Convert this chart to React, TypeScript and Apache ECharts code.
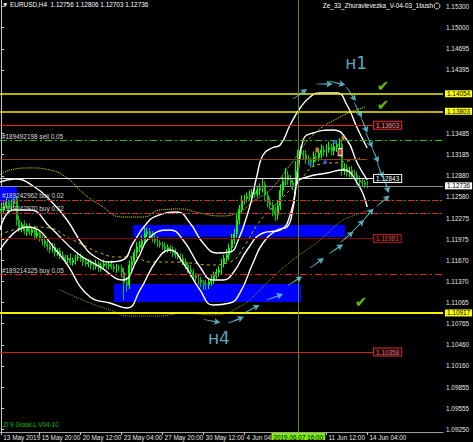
import React, { useEffect, useRef } from "react";
import * as echarts from "echarts";

// ---------- DATA ----------
const PIP = 0.0001;
const firstOpen = 1.1238;
const closes = [
  1.124, 1.1245, 1.125, 1.1242, 1.1248, 1.1254, 1.1225, 1.1213, 1.1218, 1.1209, 1.1215, 1.1207,
  1.1211, 1.1202, 1.1206, 1.1199, 1.1195, 1.119, 1.1187, 1.1182, 1.1186, 1.1178, 1.118, 1.1174,
  1.1171, 1.1168, 1.117, 1.1164, 1.1167, 1.117, 1.1172, 1.117, 1.1165, 1.1162, 1.1164, 1.116,
  1.1158, 1.1162, 1.1156, 1.1159, 1.1162, 1.116, 1.1161, 1.1158, 1.1155, 1.1157, 1.1156, 1.115,
  1.1135, 1.1132, 1.116, 1.1165, 1.1178, 1.1186, 1.1189, 1.1195, 1.1205, 1.1208, 1.1203, 1.1199,
  1.1195, 1.1192, 1.1189, 1.1187, 1.1183, 1.1185, 1.1182, 1.1178, 1.1175, 1.1172, 1.117, 1.1165,
  1.116, 1.1154, 1.115, 1.1145, 1.1142, 1.1139, 1.1135, 1.1133, 1.1132, 1.1136, 1.1139, 1.1145,
  1.115, 1.1153, 1.1162, 1.117, 1.1175, 1.1185, 1.1196, 1.1205, 1.1225, 1.124, 1.1253, 1.1256,
  1.1258, 1.126, 1.1264, 1.1262, 1.1268, 1.127, 1.1275, 1.126, 1.125, 1.1246, 1.1238, 1.1232,
  1.1245, 1.1267, 1.128, 1.1289, 1.1282, 1.1278, 1.1275, 1.1295, 1.1325, 1.132, 1.1318, 1.1312,
  1.131, 1.1308, 1.1315, 1.1314, 1.132, 1.1325, 1.1322, 1.1326, 1.1328, 1.1324, 1.133, 1.1332,
  1.1333, 1.1296, 1.1299, 1.1293, 1.1296, 1.129, 1.1289, 1.1282, 1.1279, 1.1278, 1.12756, 1.12736,
];
const upWick = [
  5, 6, 7, 4, 6, 3, 5, 6, 4, 6, 5, 5,
  4, 6, 5, 5, 4, 6, 5, 4, 6, 5, 4, 5,
  6, 4, 5, 7, 4, 5, 6, 5, 4, 6, 5, 4,
  5, 6, 4, 5, 6, 4, 5, 6, 4, 5, 4, 5,
  6, 8, 7, 6, 5, 7, 6, 8, 9, 6, 5, 6,
  5, 6, 4, 5, 6, 5, 4, 5, 6, 4, 5, 6,
  5, 4, 6, 5, 4, 6, 5, 4, 6, 5, 7, 6,
  5, 6, 7, 5, 8, 6, 9, 7, 8, 6, 7, 5,
  6, 7, 5, 8, 6, 7, 9, 5, 6, 7, 5, 6,
  8, 9, 7, 10, 6, 7, 5, 14, 19, 6, 5, 7,
  6, 5, 8, 6, 7, 8, 6, 7, 9, 6, 8, 7,
  9, 6, 7, 6, 5, 6, 7, 5, 6, 5, 4, 5,
];
const downWick = [
  6, 5, 4, 7, 5, 6, 8, 5, 6, 5, 7, 4,
  5, 6, 4, 5, 7, 5, 6, 5, 4, 6, 5, 5,
  4, 6, 5, 4, 5, 6, 4, 5, 6, 4, 5, 6,
  5, 4, 6, 5, 4, 5, 6, 4, 5, 6, 5, 8,
  25, 10, 6, 7, 5, 6, 7, 5, 6, 5, 7, 6,
  5, 6, 4, 5, 6, 5, 4, 6, 5, 4, 6, 5,
  6, 5, 7, 6, 5, 7, 6, 8, 7, 6, 5, 6,
  5, 6, 7, 5, 6, 8, 7, 6, 8, 7, 5, 6,
  6, 5, 7, 6, 5, 8, 6, 9, 7, 6, 8, 9,
  7, 6, 8, 6, 7, 5, 8, 6, 7, 9, 6, 7,
  6, 8, 7, 6, 5, 7, 6, 7, 5, 6, 7, 8,
  6, 8, 7, 6, 7, 5, 6, 7, 5, 6, 5, 3.3,
];

// indicator lines: [bar index, price]
const bandOuter = [
  [-0.5, 1.12791], [5.4, 1.12834], [12.4, 1.12734], [19.0, 1.12534], [25.7, 1.12247], [31.9, 1.1189],
  [37.4, 1.11703], [42.5, 1.11646], [47.5, 1.11675], [51.5, 1.11918], [56.9, 1.12204], [60.8, 1.12305],
  [68.6, 1.12362], [73.7, 1.12204], [78.8, 1.11918], [84.3, 1.11775], [89.3, 1.11789], [92.1, 1.11918],
  [97.2, 1.12462], [99.9, 1.12891], [102.2, 1.13178], [105.7, 1.13278], [108.9, 1.13321], [112.8, 1.13607],
  [116.7, 1.1385], [120.6, 1.14008], [124.5, 1.14065], [131.1, 1.14065], [135.0, 1.13893], [139.0, 1.13564],
  [142.9, 1.13278],
];
const bandMiddle = [
  [-0.5, 1.12104], [4.6, 1.12391], [11.2, 1.12391], [19.0, 1.12147], [29.6, 1.11775], [38.6, 1.11575],
  [47.5, 1.11389], [53.0, 1.11675], [58.1, 1.12004], [65.9, 1.12104], [71.0, 1.11961], [77.6, 1.11575],
  [82.7, 1.11389], [86.6, 1.11389], [90.5, 1.11489], [96.0, 1.11818], [102.2, 1.12061], [108.9, 1.12104],
  [112.8, 1.12319], [115.5, 1.1282], [117.9, 1.13392], [121.8, 1.13493], [129.6, 1.13535], [135.0, 1.13392],
  [139.0, 1.13063], [142.9, 1.1282],
];
const bandLower = [
  [-0.5, 1.11818], [10.0, 1.12147], [22.9, 1.11746], [34.7, 1.11145], [42.5, 1.11059], [49.1, 1.10988],
  [54.2, 1.11246], [60.8, 1.11675], [65.9, 1.11818], [71.0, 1.11632], [77.6, 1.11246], [82.7, 1.11031],
  [89.3, 1.11059], [93.2, 1.11203], [98.3, 1.11632], [102.2, 1.11918], [107.7, 1.12104], [111.6, 1.12147],
  [114.0, 1.12433], [115.5, 1.12777], [119.4, 1.12863], [127.2, 1.1292], [133.5, 1.12963], [139.0, 1.12777],
  [142.9, 1.12433],
];
const maUpper = [
  [-0.5, 1.12891], [3.4, 1.12963], [11.2, 1.12992], [19.0, 1.12963], [25.7, 1.12848], [31.9, 1.12634],
  [38.6, 1.12462], [47.5, 1.1229], [55.4, 1.1229], [62.0, 1.12391], [69.8, 1.12405], [77.6, 1.12348],
  [85.4, 1.12305], [92.1, 1.12348], [99.1, 1.12534], [105.0, 1.12677], [112.8, 1.13035], [121.8, 1.13464],
  [132.3, 1.13721], [142.1, 1.13865],
];
const maMiddle = [
  [-0.5, 1.12033], [4.6, 1.12104], [12.4, 1.12147], [19.0, 1.12133], [25.7, 1.12004], [33.5, 1.11861],
  [38.6, 1.11775], [45.2, 1.11718], [51.5, 1.11718], [58.1, 1.11646], [65.9, 1.11646], [73.7, 1.11632],
  [81.5, 1.11603], [89.3, 1.11646], [95.2, 1.1189], [99.9, 1.12176], [105.0, 1.12391], [110.0, 1.12577],
  [116.7, 1.1282], [123.3, 1.13035], [133.5, 1.13078], [140.1, 1.13135],
];
const maLower = [
  [22.9, 1.11246], [34.7, 1.11059], [42.5, 1.10959], [50.3, 1.10873], [60.8, 1.10873], [72.5, 1.10916],
  [82.7, 1.10888], [88.2, 1.10916], [92.1, 1.10988], [96.0, 1.11074], [105.0, 1.11389], [112.8, 1.11646],
  [124.5, 1.11961], [132.3, 1.12219], [138.2, 1.12319], [144.0, 1.12391],
];

// drawn arrows: [bar index, price, rotation]
const arrowsH1 = [
  [116.7, 1.14051, -54], [126.1, 1.14194, -90], [131.1, 1.14208, -104], [136.6, 1.14051, -146],
  [139.3, 1.13822, -153], [141.7, 1.13607, -157], [143.6, 1.13392, -157], [146.0, 1.13178, -157],
  [147.9, 1.12963, -159], [150.3, 1.12748, -162],
];
const arrowsH4 = [
  [82.3, 1.10802, -100], [91.7, 1.10816, -68], [97.9, 1.10974, -63], [106.9, 1.11145, -70],
  [114.7, 1.11374, -58], [123.3, 1.11632, -54], [130.7, 1.11832, -56], [135.0, 1.12004, -50],
  [139.3, 1.12161, -45], [143.2, 1.12319, -40], [149.1, 1.12519, -50],
];
const notes = [
  { text: "н1", x: 138.6, p: 1.14494, color: "#6fd8ea", size: 17 },
  { text: "н4", x: 85.0, p: 1.10559, color: "#6fd8ea", size: 17 },
  { text: "✔", x: 149.1, p: 1.14165, color: "#7cf000", size: 15 },
  { text: "✔", x: 149.1, p: 1.13894, color: "#7cf000", size: 15 },
  { text: "✔", x: 140.5, p: 1.11074, color: "#7cf000", size: 15 },
];
// trade markers on chart: [bar index, price]
const blueDots = [[130.4, 1.13364], [126.5, 1.13077], [120.6, 1.13049]];
const orangeMarks = [[123.3, 1.13249], [133.5, 1.13421]];
const redMarks = [[132.3, 1.13221]];

// levels
const yellowLevels = [1.14054, 1.13803, 1.10917];
const currentPrice = 1.12736;
const sellLevel = { price: 1.13392, label: "#189492198 sell 0.05" };
const buyLevels = [
  { price: 1.12534, label: "#189242962 buy 0.02" },
  { price: 1.12348, label: "#189242970 buy 0.02" },
];
const buyLevelLow = { price: 1.1147, label: "#189214325 buy 0.05" };
const boxLevels = [
  { price: 1.13603, line: "#e02020", border: "#e03030", text: "#d8a0a0", bg: "#240000" },
  { price: 1.12843, line: "#e8e8e8", border: "#ffffff", text: "#ffffff", bg: "#000000" },
  { price: 1.11981, line: "#8b0000", border: "#a82020", text: "#c05050", bg: "#1c0000" },
  { price: 1.10358, line: "#d02020", border: "#d03030", text: "#d08080", bg: "#200000" },
];
const brownLevel = 1.13116;
const zones = [
  [51.45, 1.12176, 134.3, 1.12004],
  [44.0, 1.11331, 117.1, 1.11074],
  [-0.5, 1.12734, 6.1, 1.12491],
];
const markerBar = 116;
const markerLabel = "2019.06.07 16:00";

const yTicks = [
  1.153, 1.15, 1.14695, 1.14395, 1.13485, 1.13185, 1.1288, 1.1258, 1.12275, 1.11975, 1.1167,
  1.1137, 1.11065, 1.10765, 1.1046, 1.1016, 1.09855, 1.09555, 1.0925,
];
const xLabelIdx = [0, 15, 31, 47, 63, 79, 95, 127, 143];
const N = 173;
const MONTHS = ["Jan", "Feb", "Mar", "Apr", "May", "Jun", "Jul", "Aug", "Sep", "Oct", "Nov", "Dec"];

function buildCategories() {
  const out: string[] = [];
  let t = Date.UTC(2019, 4, 13, 8);
  for (let i = 0; i < N; i++) {
    const d = new Date(t);
    const hh = String(d.getUTCHours()).padStart(2, "0");
    out.push(
      i === 0
        ? `${d.getUTCDate()} ${MONTHS[d.getUTCMonth()]} ${d.getUTCFullYear()}`
        : `${d.getUTCDate()} ${MONTHS[d.getUTCMonth()]} ${hh}:00`
    );
    t += 4 * 3600000;
    if (new Date(t).getUTCDay() === 6) t += 48 * 3600000;
  }
  return out;
}

const FONT = "Liberation Sans";
const FS = 6.4;

export default function App() {
  const ref = useRef<HTMLDivElement>(null);
  useEffect(() => {
    if (!ref.current) return;
    const chart = echarts.init(ref.current, null, { renderer: "svg" });
    const cats = buildCategories();
    const ohlc = closes.map((c, i) => {
      const o = i === 0 ? firstOpen : closes[i - 1];
      const hi = Math.max(o, c) + upWick[i] * PIP;
      const lo = Math.min(o, c) - downWick[i] * PIP;
      return [o, c, +lo.toFixed(5), +hi.toFixed(5)];
    });
    const endIdx = 145.2;
    const markLines: any[] = [];
    yellowLevels.forEach((p, k) => {
      markLines.push({
        yAxis: p,
        lineStyle: { color: "#f0f000", width: k === 2 ? 2 : 1.5, type: "solid" },
        label: {
          show: true, position: "end", distance: 2, formatter: p.toFixed(5),
          backgroundColor: "#ffff00", color: "#000", fontSize: FS, fontFamily: FONT, padding: [1, 2, 0, 2],
        },
      });
    });
    markLines.push({
      yAxis: currentPrice,
      lineStyle: { color: "#8c8c8c", width: 1, type: "solid" },
      label: {
        show: true, position: "end", distance: 2, formatter: currentPrice.toFixed(5),
        backgroundColor: "#ffffff", color: "#000", fontSize: FS, fontFamily: FONT, padding: [1, 2, 0, 2],
      },
    });
    markLines.push({
      yAxis: sellLevel.price,
      lineStyle: { color: "#20c020", width: 1, type: [7, 3, 2, 3] },
      label: {
        show: true, position: "insideStartTop", distance: 1, formatter: sellLevel.label,
        color: "#d8d8d8", fontSize: FS, fontFamily: FONT, padding: [0, 0, 0, 1],
      },
    });
    buyLevels.forEach((b) => {
      markLines.push({
        yAxis: b.price,
        lineStyle: { color: "#e02020", width: 1, type: [7, 5] },
        label: {
          show: true, position: "insideStartTop", distance: 1, formatter: b.label,
          color: "#d8d8d8", fontSize: FS, fontFamily: FONT, padding: [0, 0, 0, 1],
        },
      });
      markLines.push({
        yAxis: b.price,
        lineStyle: { color: "#20a020", width: 1, type: [2, 10], dashOffset: -8 },
        label: { show: false },
      });
    });
    markLines.push({
      yAxis: buyLevelLow.price,
      lineStyle: { color: "#e02020", width: 1, type: [7, 3, 2, 3] },
      label: {
        show: true, position: "insideStartTop", distance: 1, formatter: buyLevelLow.label,
        color: "#d8d8d8", fontSize: FS, fontFamily: FONT, padding: [0, 0, 0, 1],
      },
    });
    markLines.push([
      { coord: [-0.5, brownLevel], lineStyle: { color: "#8b4513", width: 1, type: "solid" }, label: { show: false } },
      { coord: [142.9, brownLevel] },
    ]);
    boxLevels.forEach((b) => {
      markLines.push([
        {
          coord: [-0.5, b.price],
          lineStyle: { color: b.line, width: 1, type: "solid" },
          label: {
            show: true, position: "end", distance: 1, formatter: b.price.toFixed(5),
            color: b.text, backgroundColor: b.bg, borderColor: b.border, borderWidth: 1,
            fontSize: FS, fontFamily: FONT, padding: [1, 2, 0, 2],
          },
        },
        { coord: [endIdx, b.price] },
      ]);
    });
    markLines.push({
      xAxis: markerBar,
      lineStyle: { color: "#5c8a1c", width: 1, type: "solid" },
      label: {
        show: true, position: "start", distance: 1, formatter: markerLabel,
        backgroundColor: "#7cf000", color: "#000", fontSize: FS, fontFamily: FONT, padding: [1, 2, 0, 2],
      },
    });

    const arrowPath = "path://M10,0 L20,15 L12,12 L11,40 L9,40 L8,12 L0,15 Z";
    const arrowData = [...arrowsH1, ...arrowsH4].map((a) => ({ value: [a[0], a[1]], symbolRotate: a[2] }));

    const lineSeries = (data: number[][], color: string, width: number, type: any, z: number) => ({
      type: "line", xAxisIndex: 1, data, smooth: 0.5, showSymbol: false, symbol: "none", z,
      lineStyle: { color, width, type }, silent: true,
    });

    chart.setOption({
      animation: false,
      backgroundColor: "#000000",
      grid: { left: 0, top: 0, right: 30, bottom: 10, containLabel: false },
      xAxis: [
        {
          type: "category", data: cats, boundaryGap: true,
          axisLine: { lineStyle: { color: "#a0a0a0" } },
          axisTick: {
            show: true, alignWithLabel: true, length: 3, lineStyle: { color: "#c8c8c8" },
            interval: (i: number) => xLabelIdx.includes(i),
          },
          axisLabel: {
            interval: (i: number) => xLabelIdx.includes(i),
            color: "#e6e6e6", fontSize: FS, fontFamily: FONT, align: "left", margin: 2, padding: [0, 0, 0, 2],
          },
          splitLine: { show: false },
        },
        { type: "value", min: -0.5, max: N - 0.5, show: false },
      ],
      yAxis: {
        type: "value", position: "right", min: 1.09213, max: 1.15396,
        axisLine: { show: true, lineStyle: { color: "#c8c8c8" } },
        axisTick: { show: true, customValues: yTicks, length: 3, lineStyle: { color: "#c8c8c8" } },
        axisLabel: {
          customValues: yTicks, formatter: (v: number) => v.toFixed(5),
          color: "#e6e6e6", fontSize: FS, fontFamily: FONT, margin: 3,
        },
        splitLine: { show: false },
      },
      graphic: [
        { type: "text", left: 2, top: 1, style: { text: "▼ EURUSD,H4  1.12756 1.12806 1.12703 1.12736", fill: "#ffffff", fontSize: FS, fontFamily: FONT } },
        { type: "text", right: 40, top: 2, style: { text: "Ze_33_Zhuravlevezka_V-04-03_1bush", fill: "#ffffff", fontSize: FS, fontFamily: FONT } },
        { type: "circle", shape: { cx: 437, cy: 6, r: 3 }, style: { fill: "#000", stroke: "#ffffff", lineWidth: 0.8 } },
        { type: "text", left: 3, top: 421, style: { text: "Zi 9 Graal-L V04-10", fill: "#00c000", fontSize: FS, fontFamily: FONT } },
      ],
      series: [
        {
          type: "scatter", xAxisIndex: 1, data: [], z: 1, silent: true,
          markArea: {
            silent: true,
            itemStyle: { color: "#0000ff", opacity: 1 },
            data: zones.map((r) => [{ coord: [r[0], r[1]] }, { coord: [r[2], r[3]] }]),
          },
          markLine: { silent: true, precision: 5, symbol: ["none", "none"], animation: false, data: markLines },
        },
        lineSeries(maLower, "#a89a00", 1, "dotted", 2),
        lineSeries(maMiddle, "#c8b400", 1, [3, 3], 2),
        lineSeries(maUpper, "#e8e800", 1, "dotted", 2),
        {
          type: "candlestick", xAxisIndex: 0, data: ohlc, barWidth: 1.4, z: 3, silent: true,
          itemStyle: { color: "#00ff00", color0: "#00d000", borderColor: "#00ff00", borderColor0: "#10c010", borderWidth: 1 },
        },
        lineSeries(bandOuter, "#ffffff", 1.4, "solid", 4),
        lineSeries(bandMiddle, "#ffffff", 1.4, "solid", 4),
        lineSeries(bandLower, "#ffffff", 1.4, "solid", 4),
        {
          type: "scatter", xAxisIndex: 1, z: 6, silent: true, symbol: "circle", symbolSize: 4,
          itemStyle: { color: "#2060ff" }, data: blueDots,
        },
        {
          type: "scatter", xAxisIndex: 1, z: 6, silent: true, symbol: "rect", symbolSize: [3, 5],
          itemStyle: { color: "#f0a040" }, data: orangeMarks,
        },
        {
          type: "scatter", xAxisIndex: 1, z: 6, silent: true, symbol: "rect", symbolSize: [4, 7],
          itemStyle: { color: "#ff3030", borderColor: "#ffffff", borderWidth: 1 }, data: redMarks,
        },
        {
          type: "scatter", xAxisIndex: 1, z: 10, silent: true,
          symbol: arrowPath, symbolSize: [7, 17],
          itemStyle: { color: "#6ad8ea" },
          data: arrowData,
        },
        {
          type: "scatter", xAxisIndex: 1, z: 11, silent: true, symbolSize: 1,
          itemStyle: { color: "rgba(0,0,0,0)" },
          data: notes.map((n) => ({
            value: [n.x, n.p],
            label: { show: true, position: "inside", formatter: n.text, color: n.color, fontSize: n.size, fontFamily: "DejaVu Sans", lineHeight: n.size },
          })),
        },
      ],
    });
    return () => chart.dispose();
  }, []);
  return <div ref={ref} style={{ position: "fixed", left: 0, top: 0, width: 473, height: 442, background: "#000" }} />;
}
